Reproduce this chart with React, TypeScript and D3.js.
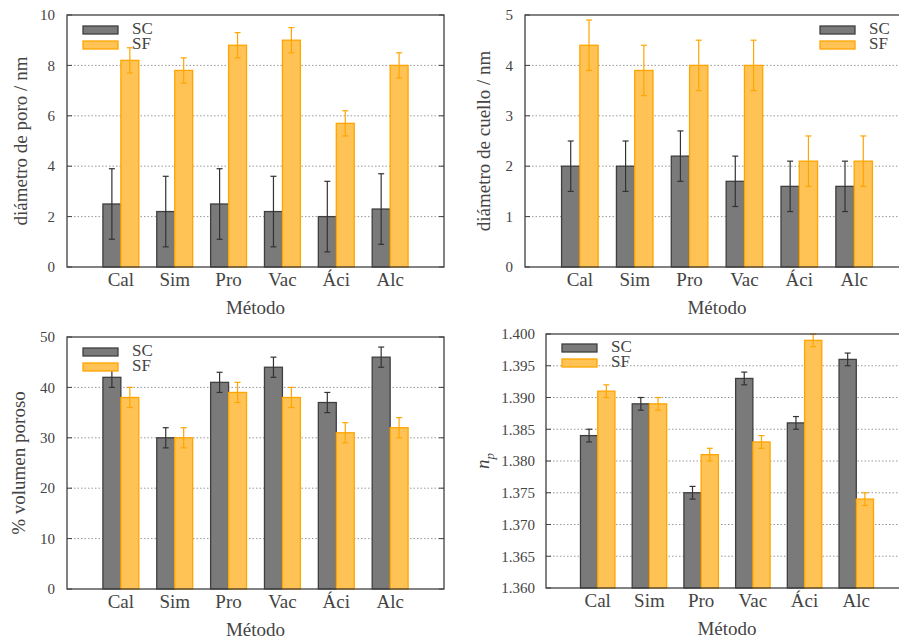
import React from "react";
import * as d3 from "d3";

const categories = ["Cal", "Sim", "Pro", "Vac", "Áci", "Alc"];
const seriesNames = ["SC", "SF"];

// Panel 1: diámetro de poro / nm
const poroSC = [2.5, 2.2, 2.5, 2.2, 2.0, 2.3];
const poroSCErr = [1.4, 1.4, 1.4, 1.4, 1.4, 1.4];
const poroSF = [8.2, 7.8, 8.8, 9.0, 5.7, 8.0];
const poroSFErr = [0.5, 0.5, 0.5, 0.5, 0.5, 0.5];
const poroTicks = [0, 2, 4, 6, 8, 10];

// Panel 2: diámetro de cuello / nm
const cuelloSC = [2.0, 2.0, 2.2, 1.7, 1.6, 1.6];
const cuelloSCErr = [0.5, 0.5, 0.5, 0.5, 0.5, 0.5];
const cuelloSF = [4.4, 3.9, 4.0, 4.0, 2.1, 2.1];
const cuelloSFErr = [0.5, 0.5, 0.5, 0.5, 0.5, 0.5];
const cuelloTicks = [0, 1, 2, 3, 4, 5];

// Panel 3: % volumen poroso
const volSC = [42, 30, 41, 44, 37, 46];
const volSCErr = [2, 2, 2, 2, 2, 2];
const volSF = [38, 30, 39, 38, 31, 32];
const volSFErr = [2, 2, 2, 2, 2, 2];
const volTicks = [0, 10, 20, 30, 40, 50];

// Panel 4: n_p
const npSC = [1.384, 1.389, 1.375, 1.393, 1.386, 1.396];
const npSCErr = [0.001, 0.001, 0.001, 0.001, 0.001, 0.001];
const npSF = [1.391, 1.389, 1.381, 1.383, 1.399, 1.374];
const npSFErr = [0.001, 0.001, 0.001, 0.001, 0.001, 0.001];
const npTicks = [1.36, 1.365, 1.37, 1.375, 1.38, 1.385, 1.39, 1.395, 1.4];

const FONT = "Liberation Serif";
const TXT = "#444";
const FRAME = "#404040";
const SC_FILL = "#7a7a7a";
const SC_STROKE = "#3f3f3f";
const SF_FILL = "#ffc355";
const SF_STROKE = "#ffa500";

type PanelProps = {
  left: number;
  right: number;
  top: number;
  bottom: number;
  domain: [number, number];
  ticks: number[];
  fmt: (v: number) => string;
  sc: number[];
  scErr: number[];
  sf: number[];
  sfErr: number[];
  yTitle: React.ReactNode;
  yTitleX: number;
  tickEnd: number;
  legendX: number;
  legendY: number;
};

function Panel(p: PanelProps) {
  const x = d3.scaleLinear().domain([0, 7]).range([p.left, p.right]);
  const y = d3.scaleLinear().domain(p.domain).range([p.bottom, p.top]);
  const step = x(1) - x(0);
  const w = step / 3;
  const cap = 3;
  const series = [
    { vals: p.sc, errs: p.scErr, fill: SC_FILL, stroke: SC_STROKE, err: "#333", off: -w },
    { vals: p.sf, errs: p.sfErr, fill: SF_FILL, stroke: SF_STROKE, err: SF_STROKE, off: 0 },
  ];
  const midY = (p.top + p.bottom) / 2;
  return (
    <g style={{ fontFamily: FONT }}>
      {p.ticks.slice(1, -1).map((t) => (
        <line key={"g" + t} x1={p.left} x2={p.right} y1={y(t)} y2={y(t)}
          stroke="#999" strokeWidth={1} strokeDasharray="1.5,2" />
      ))}
      {series.map((s, si) =>
        s.vals.map((v, i) => {
          const cx = x(i + 1) + s.off;
          return (
            <rect key={"b" + si + i} x={cx} y={y(v)} width={w} height={y(p.domain[0]) - y(v)}
              fill={s.fill} stroke={s.stroke} strokeWidth={1.3} />
          );
        })
      )}
      {series.map((s, si) =>
        s.vals.map((v, i) => {
          const cx = x(i + 1) + s.off + w / 2;
          const y1 = y(v + s.errs[i]);
          const y0 = y(v - s.errs[i]);
          return (
            <g key={"e" + si + i} stroke={s.err} strokeWidth={1.2}>
              <line x1={cx} x2={cx} y1={y0} y2={y1} />
              <line x1={cx - cap} x2={cx + cap} y1={y0} y2={y0} />
              <line x1={cx - cap} x2={cx + cap} y1={y1} y2={y1} />
            </g>
          );
        })
      )}
      <rect x={p.left} y={p.top} width={p.right - p.left} height={p.bottom - p.top}
        fill="none" stroke={FRAME} strokeWidth={1.3} />
      {p.ticks.map((t) => (
        <g key={"t" + t}>
          <line x1={p.left} x2={p.left + 5} y1={y(t)} y2={y(t)} stroke={FRAME} strokeWidth={1} />
          <line x1={p.right - 5} x2={p.right} y1={y(t)} y2={y(t)} stroke={FRAME} strokeWidth={1} />
          <text x={p.tickEnd} y={y(t)} dy="0.35em" textAnchor="end" fontSize={15} fill={TXT}>{p.fmt(t)}</text>
        </g>
      ))}
      {categories.map((c, i) => (
        <text key={"c" + c} x={x(i + 1)} y={p.bottom + 19} textAnchor="middle" fontSize={19}
          fill={TXT}>{c}</text>
      ))}
      <text x={(p.left + p.right) / 2} y={p.bottom + 47} textAnchor="middle"
        fontSize={19} fill={TXT}>Método</text>
      <text transform={`translate(${p.yTitleX},${midY}) rotate(-90)`} textAnchor="middle" dy="0.35em"
        fontSize={19} fill={TXT}>{p.yTitle}</text>
      {seriesNames.map((n, i) => (
        <g key={"l" + n}>
          <rect x={p.legendX} y={p.legendY + i * 15} width={35} height={8}
            fill={i === 0 ? SC_FILL : SF_FILL} stroke={i === 0 ? SC_STROKE : SF_STROKE} strokeWidth={1.3} />
          <text x={p.legendX + 49} y={p.legendY + i * 15 + 8} fontSize={17} fill={TXT}>{n}</text>
        </g>
      ))}
    </g>
  );
}

export default function App() {
  const intFmt = (v: number) => d3.format("d")(v);
  const npFmt = (v: number) => d3.format(".3f")(v);
  return (
    <svg width={899} height={640} style={{ position: "absolute", left: 0, top: 0, background: "#fff" }}>
      <Panel left={67} right={444} top={15} bottom={267} domain={[0, 10]} ticks={poroTicks} fmt={intFmt}
        sc={poroSC} scErr={poroSCErr} sf={poroSF} sfErr={poroSFErr}
        yTitle="diámetro de poro / nm" yTitleX={20} tickEnd={55} legendX={83} legendY={26} />
      <Panel left={525} right={909} top={15} bottom={267} domain={[0, 5]} ticks={cuelloTicks} fmt={intFmt}
        sc={cuelloSC} scErr={cuelloSCErr} sf={cuelloSF} sfErr={cuelloSFErr}
        yTitle="diámetro de cuello / nm" yTitleX={483} tickEnd={513} legendX={820} legendY={26} />
      <Panel left={67} right={444} top={337} bottom={589} domain={[0, 50]} ticks={volTicks} fmt={intFmt}
        sc={volSC} scErr={volSCErr} sf={volSF} sfErr={volSFErr}
        yTitle="% volumen poroso" yTitleX={18} tickEnd={55} legendX={83} legendY={348} />
      <Panel left={546} right={908} top={334} bottom={588} domain={[1.36, 1.4]} ticks={npTicks} fmt={npFmt}
        sc={npSC} scErr={npSCErr} sf={npSF} sfErr={npSFErr}
        yTitle={<tspan><tspan fontStyle="italic">n</tspan><tspan fontStyle="italic" fontSize={13} dy="5">p</tspan></tspan>}
        yTitleX={482} tickEnd={535} legendX={562} legendY={344} />
    </svg>
  );
}
